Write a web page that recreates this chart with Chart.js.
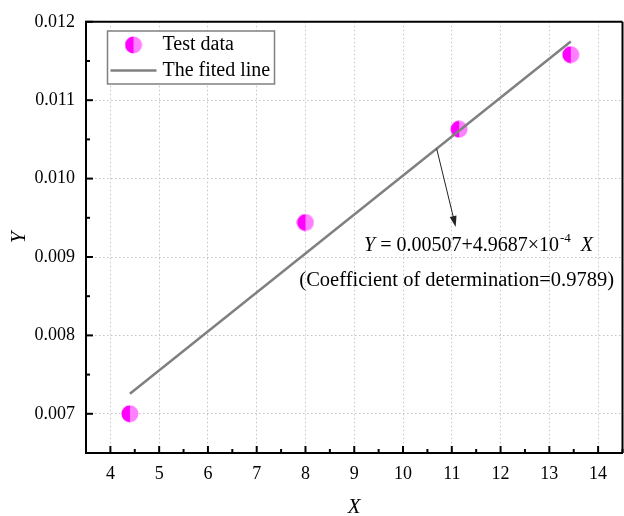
<!DOCTYPE html>
<html>
<head>
<meta charset="utf-8">
<script src="https://cdn.jsdelivr.net/npm/chart.js@4"></script>
<style>
  html, body { margin: 0; padding: 0; background: #fff; overflow: hidden; }
</style>
</head>
<body>
<canvas id="fitChart" width="632" height="516"></canvas>
<script>
const testX = [4.40, 8.00, 11.15, 13.44];
const testY = [0.00700, 0.00944, 0.01063, 0.01158];

// linear fit Y = a + b*X
const fitIntercept = 0.00507;
const fitSlope = 4.9687e-4;
const fitR2 = 0.9789;

const xTicks = [4, 5, 6, 7, 8, 9, 10, 11, 12, 13, 14];
const yTicks = [0.007, 0.008, 0.009, 0.010, 0.011, 0.012];

const serif = "'Liberation Serif', 'Times New Roman', serif";

const fitX = [Math.min(...testX), Math.max(...testX)];
const fitY = fitX.map(x => fitIntercept + fitSlope * x);

// half dark / half light magenta marker
function halfDot(r) {
  const c = document.createElement('canvas');
  const s = Math.ceil(r * 2) + 1;
  c.width = s; c.height = s;
  const g = c.getContext('2d');
  const m = s / 2;
  g.fillStyle = '#ff80ff';
  g.beginPath(); g.arc(m, m, r, -Math.PI / 2, Math.PI / 2); g.fill();
  g.fillStyle = '#ff00ff';
  g.beginPath(); g.arc(m, m, r, Math.PI / 2, Math.PI * 1.5); g.fill();
  return c;
}
const dot = halfDot(8.5);

const framePlugin = {
  id: 'frame',
  afterDraw(chart) {
    const { ctx, chartArea: a, scales: { x, y } } = chart;
    ctx.save();
    ctx.strokeStyle = '#000';
    ctx.lineWidth = 2;
    ctx.beginPath();
    ctx.moveTo(a.left - 1, a.top); ctx.lineTo(a.right, a.top);
    ctx.moveTo(a.right, a.top); ctx.lineTo(a.right, a.bottom);
    ctx.stroke();

    // inward ticks, major and minor
    const tick = (px, len, vertical) => {
      ctx.beginPath();
      if (vertical) { ctx.moveTo(px, a.bottom); ctx.lineTo(px, a.bottom - len); }
      else { ctx.moveTo(a.left, px); ctx.lineTo(a.left + len, px); }
      ctx.stroke();
    };
    xTicks.forEach(v => {
      tick(x.getPixelForValue(v), 7, true);
      tick(x.getPixelForValue(v + 0.5), 4, true);
    });
    yTicks.forEach(v => {
      tick(y.getPixelForValue(v), 7, false);
      if (v + 0.0005 < y.max) tick(y.getPixelForValue(v + 0.0005), 4, false);
    });

    // legend
    const bx = a.left + 21.5, by = 31, bw = 167, bh = 53;
    ctx.fillStyle = '#fff';
    ctx.fillRect(bx, by, bw, bh);
    ctx.strokeStyle = '#808080';
    ctx.lineWidth = 1.5;
    ctx.strokeRect(bx, by, bw, bh);
    ctx.drawImage(dot, bx + 26 - dot.width / 2, by + 14 - dot.height / 2);
    ctx.strokeStyle = '#808080';
    ctx.lineWidth = 2.5;
    ctx.beginPath();
    ctx.moveTo(bx + 3, by + 39.5); ctx.lineTo(bx + 49, by + 39.5);
    ctx.stroke();
    ctx.fillStyle = '#000';
    ctx.font = '20px ' + serif;
    ctx.textBaseline = 'middle';
    ctx.textAlign = 'left';
    ctx.fillText(chart.data.datasets[1].label, bx + 55, by + 14);
    ctx.fillText(chart.data.datasets[0].label, bx + 55, by + 39.5);

    // arrow from the fitted line down to the equation
    const ax0 = 10.69;
    const x0 = x.getPixelForValue(ax0), y0 = y.getPixelForValue(fitIntercept + fitSlope * ax0);
    const x1 = x.getPixelForValue(11.08), y1 = y.getPixelForValue(0.009384);
    const ang = Math.atan2(y1 - y0, x1 - x0);
    ctx.strokeStyle = '#222';
    ctx.fillStyle = '#222';
    ctx.lineWidth = 1;
    ctx.beginPath(); ctx.moveTo(x0, y0); ctx.lineTo(x1 - 8 * Math.cos(ang), y1 - 8 * Math.sin(ang)); ctx.stroke();
    ctx.beginPath();
    ctx.moveTo(x1, y1);
    ctx.lineTo(x1 - 11 * Math.cos(ang) + 3.5 * Math.sin(ang), y1 - 11 * Math.sin(ang) - 3.5 * Math.cos(ang));
    ctx.lineTo(x1 - 11 * Math.cos(ang) - 3.5 * Math.sin(ang), y1 - 11 * Math.sin(ang) + 3.5 * Math.cos(ang));
    ctx.closePath(); ctx.fill();

    // equation
    ctx.fillStyle = '#000';
    let ex = x.getPixelForValue(9.20);
    const ey = y.getPixelForValue(0.009143);
    ctx.font = 'italic 20px ' + serif;
    ctx.fillText('Y', ex, ey);
    ex += ctx.measureText('Y').width;
    ctx.font = '20px ' + serif;
    const eqMain = ' = ' + fitIntercept + '+' + (fitSlope * 1e4).toFixed(4) + '\u00d710';
    ctx.fillText(eqMain, ex, ey);
    ex += ctx.measureText(eqMain).width + 1;
    ctx.font = '13px ' + serif;
    ctx.fillText('-4', ex, ey - 7);
    ex += ctx.measureText('-4').width + 10;
    ctx.font = 'italic 20px ' + serif;
    ctx.fillText('X', ex, ey);

    ctx.font = '20.5px ' + serif;
    ctx.textAlign = 'center';
    ctx.fillText('(Coefficient of determination=' + fitR2 + ')', x.getPixelForValue(11.10), y.getPixelForValue(0.0087));
    ctx.restore();
  }
};

new Chart(document.getElementById('fitChart'), {
  type: 'scatter',
  data: {
    datasets: [{
      label: 'The fited line',
      data: fitX.map((v, i) => ({ x: v, y: fitY[i] })),
      showLine: true,
      borderColor: '#808080',
      borderWidth: 2.5,
      pointRadius: 0,
      order: 0
    }, {
      label: 'Test data',
      data: testX.map((v, i) => ({ x: v, y: testY[i] })),
      pointStyle: dot,
      pointRadius: 8.5,
      showLine: false,
      order: 1
    }]
  },
  options: {
    responsive: false,
    animation: false,
    layout: { padding: { top: 19, right: 5, left: 0, bottom: 0 } },
    plugins: {
      legend: { display: false },
      tooltip: { enabled: false }
    },
    scales: {
      x: {
        type: 'linear',
        min: 3.5,
        max: 14.5,
        afterBuildTicks: s => { s.ticks = xTicks.map(v => ({ value: v })); },
        afterFit: s => { s.height = 63; },
        ticks: { color: '#000', font: { family: serif, size: 18 }, padding: 10, maxRotation: 0 },
        grid: { color: '#c4c4c4', lineWidth: 1, drawTicks: false },
        border: { display: true, color: '#000', width: 2, dash: [1.5, 2.5] },
        title: { display: true, text: 'X', color: '#000', font: { family: serif, size: 21, style: 'italic', lineHeight: 1 }, padding: { top: 0, bottom: -2 } }
      },
      y: {
        type: 'linear',
        min: 0.0065,
        max: 0.012,
        afterBuildTicks: s => { s.ticks = yTicks.map(v => ({ value: v })); },
        afterFit: s => { s.width = 86; },
        ticks: { color: '#000', font: { family: serif, size: 18 }, padding: 11, callback: v => v.toFixed(3) },
        grid: { color: '#c4c4c4', lineWidth: 1, drawTicks: false },
        border: { display: true, color: '#000', width: 2, dash: [1.5, 2.5] },
        title: { display: true, text: 'Y', color: '#000', font: { family: serif, size: 21, style: 'italic', lineHeight: 1 }, padding: { top: 9, bottom: 0 } }
      }
    }
  },
  plugins: [framePlugin]
});
</script>
</body>
</html>
